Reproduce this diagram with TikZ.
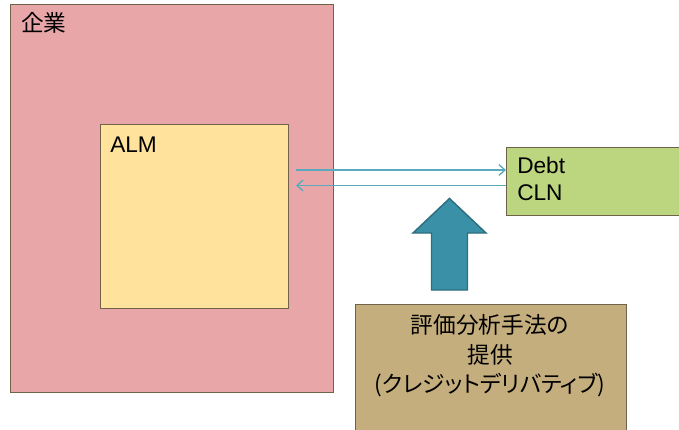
\documentclass[tikz,border=0pt]{standalone}
\usepackage{fontspec}
\setmainfont{Liberation Sans}
\newfontfamily\cjk{Noto Sans CJK JP}
\newfontfamily\cjkprop[RawFeature=+palt]{Noto Sans CJK JP}
\usetikzlibrary{arrows.meta}
\definecolor{boxedge}{HTML}{6F6449}
\definecolor{corpfill}{HTML}{E9A6A9}
\definecolor{almfill}{HTML}{FFE29C}
\definecolor{debtfill}{HTML}{BBD67F}
\definecolor{toolfill}{HTML}{C5AE7D}
\definecolor{flowline}{HTML}{5BA9BD}
\definecolor{hintfill}{HTML}{3A90A6}
\definecolor{hintedge}{HTML}{2D6E80}

\begin{document}
\begin{tikzpicture}
  [x=0.75pt, y=-0.75pt,
   every node/.style={font=\fontsize{17}{20}\selectfont, inner sep=0pt},
   box/.style={draw=boxedge, line width=1pt, anchor=north west},
   label/.style={anchor=base west, align=left},
   flow/.style={draw=flowline, line width=1pt, -{Straight Barb[length=4.5pt,width=8pt]}},
   hint/.style={fill=hintfill, draw=hintedge, line width=1.1pt, line join=miter}]
  \useasboundingbox (0,0) rectangle (679,429);
  \clip (0,0) rectangle (679,429);
  % boxes
  \node[box, fill=corpfill, minimum width=242.25pt, minimum height=291pt] (corp) at (10,4) {};
  \node[box, fill=almfill, minimum width=141pt, minimum height=138pt] (alm) at (100,124) {};
  \node[box, fill=debtfill, minimum width=150pt, minimum height=51pt] (debt) at (506,146.5) {};
  \node[box, fill=toolfill, minimum width=203.25pt, minimum height=110pt] (tool) at (355,304) {};
  % texts
  \node[label] (corpname) at (21,31) {\cjk 企業};
  \node[label] (almname) at (110,152.5) {ALM};
  \node[label] (debtname) at (517,200) {Debt\\CLN};
  \node[align=center, font=\fontsize{17}{22}\selectfont] (toolname) at (490,356)
    {\cjk 評価分析手法の\\\cjk 提供\\\cjkprop (クレジットデリバティブ)};
  % flows
  \coordinate (out) at (296,170);
  \coordinate (back) at (296,185.5);
  \draw[flow] (out) -- (out -| debt.west);
  \draw[flow] (back -| debt.west) -- (back);
  % up arrow
  \draw[hint] (431.5,290) -- (431.5,233) -- (413,233) -- (449.5,198.5)
    -- (486,233) -- (467.5,233) -- (467.5,290) -- cycle;
\end{tikzpicture}
\end{document}
